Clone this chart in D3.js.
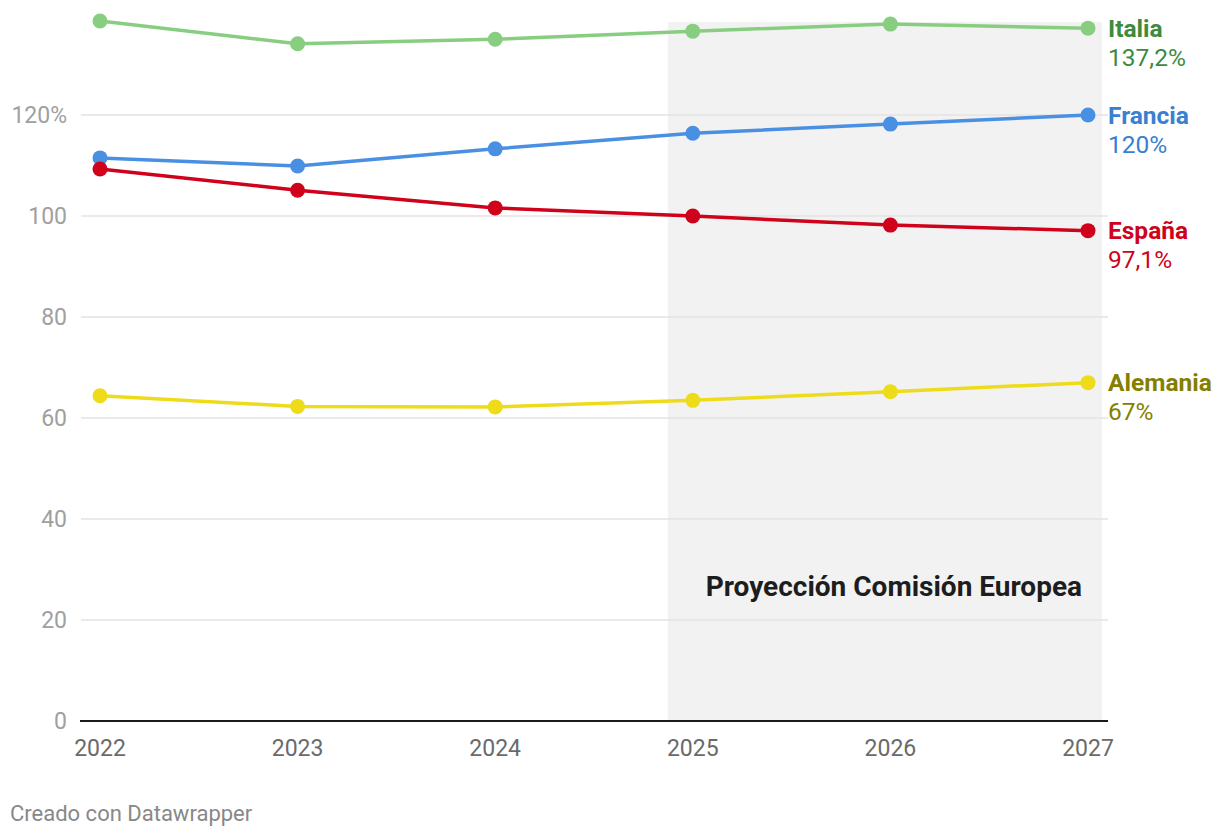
<!DOCTYPE html>
<html>
<head>
<meta charset="utf-8">
<script src="https://cdn.jsdelivr.net/npm/d3@7"></script>
<style>
  html, body { margin: 0; padding: 0; background: #fff; }
  svg { font-family: Roboto, "Noto Sans", sans-serif; display: block; }
</style>
</head>
<body>
<svg id="chart" width="1220" height="838"></svg>
<script>
const years = [2022, 2023, 2024, 2025, 2026, 2027];
const italia   = [138.6, 134.1, 135.0, 136.6, 138.0, 137.2];
const francia  = [111.5, 109.9, 113.3, 116.4, 118.2, 120.0];
const espana   = [109.3, 105.1, 101.6, 100.0, 98.2, 97.1];
const alemania = [64.4, 62.3, 62.2, 63.5, 65.2, 67.0];
const yTicks = [0, 20, 40, 60, 80, 100, 120];
const seriesNames = ["Italia", "Francia", "España", "Alemania"];
const valueLabels = ["137,2%", "120%", "97,1%", "67%"];
const projectionStart = 2025;
const projectionLabel = "Proyección Comisión Europea";

const lineColors  = ["#88ce80", "#4a90e2", "#d0021b", "#eedc1a"];
const labelColors = ["#3d8b3d", "#3a80d0", "#d0021b", "#857f00"];
const seriesData = [italia, francia, espana, alemania];

const svg = d3.select("#chart");
const x = d3.scaleLinear().domain([2022, 2027]).range([100, 1088]);
const y = d3.scaleLinear().domain([0, 120]).range([721, 115]);

// projection shading
svg.append("rect")
  .attr("x", x(projectionStart) - 25)
  .attr("y", 22)
  .attr("width", 1102 - (x(projectionStart) - 25))
  .attr("height", y(0) - 22)
  .attr("fill", "#f2f2f2");

// gridlines
const grid = svg.append("g");
grid.selectAll("line").data(yTicks.filter(d => d !== 0)).join("line")
  .attr("x1", 81).attr("x2", 1108)
  .attr("y1", d => y(d)).attr("y2", d => y(d))
  .attr("stroke", "#e3e3e3").attr("stroke-width", 1.3);

// y labels
svg.append("g").selectAll("text").data(yTicks).join("text")
  .attr("x", 67).attr("y", d => y(d))
  .attr("text-anchor", "end").attr("dominant-baseline", "central")
  .attr("font-size", 23).attr("fill", "#a0a0a0")
  .text(d => d === 120 ? d + "%" : d);

// baseline
svg.append("line").attr("x1", 80).attr("x2", 1108)
  .attr("y1", y(0)).attr("y2", y(0))
  .attr("stroke", "#1a1a1a").attr("stroke-width", 2);

// x labels
svg.append("g").selectAll("text").data(years).join("text")
  .attr("x", d => x(d)).attr("y", 756)
  .attr("text-anchor", "middle")
  .attr("font-size", 23).attr("fill", "#6a6a6a")
  .text(d => d);

// projection label
svg.append("text").attr("x", 1082).attr("y", 596)
  .attr("text-anchor", "end").attr("font-size", 28).attr("font-weight", 700)
  .attr("fill", "#1d1d1d").text(projectionLabel);

// lines and dots
const line = d3.line().x((d, i) => x(years[i])).y(d => y(d));
seriesData.forEach((vals, k) => {
  svg.append("path").datum(vals)
    .attr("d", line).attr("fill", "none")
    .attr("stroke", lineColors[k]).attr("stroke-width", 3.5)
    .attr("stroke-linejoin", "round");
  svg.append("g").selectAll("circle").data(vals).join("circle")
    .attr("cx", (d, i) => x(years[i])).attr("cy", d => y(d))
    .attr("r", 7.5).attr("fill", lineColors[k]);
  const last = vals[vals.length - 1];
  svg.append("text").attr("x", 1108).attr("y", y(last))
    .attr("dominant-baseline", "central")
    .attr("font-size", 24.5).attr("font-weight", 700)
    .attr("fill", labelColors[k]).text(seriesNames[k]);
  svg.append("text").attr("x", 1108).attr("y", y(last) + 29)
    .attr("dominant-baseline", "central")
    .attr("font-size", 24.5).attr("fill", labelColors[k]).text(valueLabels[k]);
});

// footer
svg.append("text").attr("x", 10).attr("y", 821)
  .attr("font-size", 22).attr("fill", "#888").text("Creado con Datawrapper");
</script>
</body>
</html>
